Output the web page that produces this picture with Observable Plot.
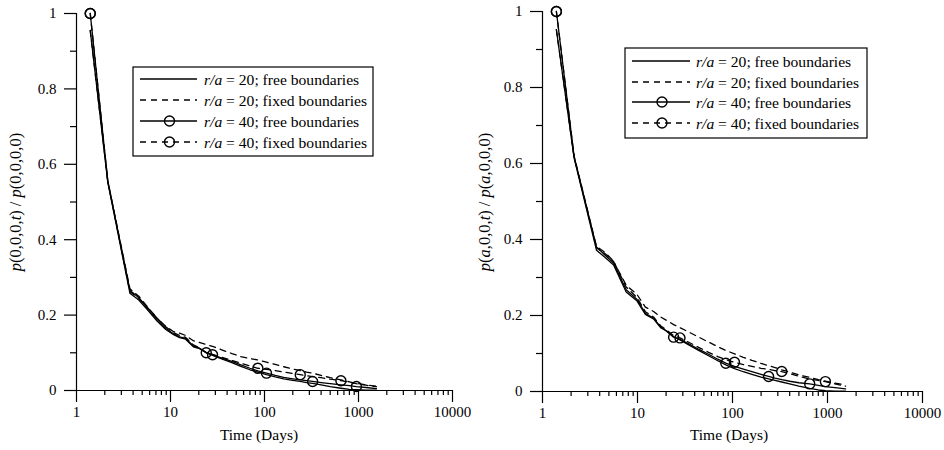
<!DOCTYPE html>
<html><head><meta charset="utf-8">
<script src="https://cdn.jsdelivr.net/npm/d3@7"></script>
<script src="https://cdn.jsdelivr.net/npm/@observablehq/plot@0.6"></script>
<style>
body{margin:0;background:#fff;}
#wrap{display:flex;width:944px;height:450px;}
#wrap svg{font-family:"Liberation Serif","Times New Roman",serif !important;display:block;}
#wrap svg text, #wrap svg tspan{font-family:"Liberation Serif","Times New Roman",serif !important;}
#wrap svg g[aria-label*="tick label"], #wrap svg g[aria-label*="tick label"] text{font-size:15px !important;}
</style></head><body><div id="wrap"></div>
<script>
// ---------- ticks ----------
const xMajorTicks = [1, 10, 100, 1000, 10000];
const xMinorTicks = [2,3,4,5,6,7,8,9,20,30,40,50,60,70,80,90,200,300,400,500,600,700,800,900,2000,3000,4000,5000,6000,7000,8000,9000];
const yMajorTicks = [0, 0.2, 0.4, 0.6, 0.8, 1];
const yMinorTicks = [0.1, 0.3, 0.5, 0.7, 0.9];
const xLabel = "Time (Days)";
const legendRest = [" = 20; free boundaries", " = 20; fixed boundaries", " = 40; free boundaries", " = 40; fixed boundaries"];

// ---------- left panel data: p(0,0,0,t)/p(0,0,0,0) ----------
const leftTimes = [1.4,2.15,3.7,4.6,5.6,7.2,8.9,10.8,12.5,14.5,17.5,20,24,28,35,45,56,70,85,105,130,160,200,240,280,325,400,500,650,800,950,1200,1550];
const leftFree20  = [0.955,0.553,0.258,0.240,0.216,0.184,0.162,0.148,0.140,0.136,0.116,0.112,0.100,0.093,0.084,0.074,0.064,0.055,0.049,0.042,0.036,0.031,0.027,0.024,0.021,0.019,0.015,0.010,0.006,0.003,0.002,0.001,0.001];
const leftFixed20 = [0.955,0.556,0.262,0.245,0.222,0.192,0.170,0.156,0.152,0.146,0.132,0.128,0.122,0.117,0.108,0.098,0.090,0.085,0.081,0.075,0.069,0.063,0.057,0.053,0.049,0.046,0.040,0.034,0.028,0.023,0.019,0.015,0.0115];
const leftFree40  = [1.0,0.556,0.266,0.246,0.220,0.188,0.165,0.150,0.142,0.138,0.118,0.113,0.101,0.095,0.086,0.077,0.068,0.059,0.052,0.046,0.040,0.035,0.031,0.028,0.026,0.024,0.021,0.018,0.015,0.013,0.0105,0.008,0.005];
const leftFixed40 = [1.0,0.557,0.270,0.250,0.224,0.192,0.169,0.153,0.146,0.141,0.121,0.114,0.100,0.096,0.088,0.080,0.072,0.065,0.059,0.056,0.053,0.049,0.045,0.042,0.039,0.037,0.034,0.030,0.026,0.022,0.018,0.014,0.010];
const leftMarksFree40  = [1.4, 28, 105, 325, 950];
const leftMarksFixed40 = [1.4, 24, 85, 240, 650];

// ---------- right panel data: p(a,0,0,t)/p(a,0,0,0) ----------
const rightTimes = [1.4,2.15,3.7,4.6,5.6,7.6,9.9,12.1,14.9,17.5,20,24,28,35,45,56,70,85,105,130,160,200,240,280,330,400,500,650,800,950,1200,1550];
const rightFree20  = [0.952,0.615,0.372,0.352,0.333,0.262,0.238,0.203,0.190,0.168,0.160,0.144,0.136,0.122,0.107,0.094,0.081,0.070,0.060,0.052,0.045,0.038,0.033,0.029,0.025,0.020,0.014,0.008,0.004,0.002,0.001,0.001];
const rightFixed20 = [0.952,0.617,0.378,0.362,0.342,0.280,0.255,0.222,0.210,0.196,0.188,0.176,0.168,0.156,0.142,0.130,0.118,0.108,0.099,0.090,0.082,0.074,0.068,0.063,0.057,0.051,0.044,0.037,0.031,0.027,0.022,0.017];
const rightFree40  = [1.0,0.618,0.380,0.358,0.338,0.268,0.242,0.206,0.192,0.170,0.160,0.143,0.137,0.125,0.110,0.098,0.085,0.0745,0.066,0.059,0.052,0.045,0.0395,0.035,0.031,0.027,0.023,0.020,0.016,0.013,0.010,0.007];
const rightFixed40 = [1.0,0.620,0.382,0.365,0.343,0.275,0.247,0.210,0.195,0.173,0.163,0.147,0.141,0.129,0.115,0.103,0.092,0.084,0.077,0.071,0.066,0.061,0.058,0.055,0.0526,0.047,0.040,0.033,0.029,0.026,0.020,0.014];
const rightMarksFree40  = [1.4, 24, 85, 240, 650];
const rightMarksFixed40 = [1.4, 28, 105, 330, 950];

const FONT = '"Liberation Serif","Times New Roman",serif';
const DASH = "6,5";
const LW = 1.3;

function rows(times, vals){ return times.map((t,i)=>({t, p: vals[i]})); }
function markRows(times, vals, at){ return at.map(t=>({t, p: vals[times.indexOf(t)]})); }

function makePanel(cfg){
  const plot = Plot.plot({
    width: 472, height: 450,
    marginLeft: cfg.ml, marginRight: cfg.mr, marginTop: cfg.mt, marginBottom: cfg.mb,
    x: {type: "log", domain: [1, 10000]},
    y: {domain: [0, 1]},
    style: {fontFamily: FONT, fontSize: "15px", color: "black", background: "white", overflow: "visible"},
    marks: [
      Plot.axisY({ticks: yMajorTicks, tickSize: 12, tickPadding: 8, tickFormat: d => String(d), label: null, fontSize: 15, strokeWidth: 1.2}),
      Plot.axisY({ticks: yMinorTicks, tickSize: 6, tickFormat: () => "", label: null, strokeWidth: 1.2}),
      Plot.axisX({ticks: xMajorTicks, tickSize: 12, tickPadding: 4, tickFormat: d => String(d), label: null, fontSize: 15, strokeWidth: 1.2}),
      Plot.axisX({ticks: xMinorTicks, tickSize: 5, tickFormat: () => "", label: null, strokeWidth: 1.2}),
      Plot.ruleX([1], {y1: 0, y2: 1, stroke: "black", strokeWidth: 1.2}),
      Plot.ruleY([0], {x1: 1, x2: 10000, stroke: "black", strokeWidth: 1.2}),
      Plot.line(rows(cfg.times, cfg.free20), {x: "t", y: "p", stroke: "black", strokeWidth: LW}),
      Plot.line(rows(cfg.times, cfg.fixed20), {x: "t", y: "p", stroke: "black", strokeWidth: LW, strokeDasharray: DASH}),
      Plot.line(rows(cfg.times, cfg.free40), {x: "t", y: "p", stroke: "black", strokeWidth: LW}),
      Plot.line(rows(cfg.times, cfg.fixed40), {x: "t", y: "p", stroke: "black", strokeWidth: LW, strokeDasharray: DASH}),
      Plot.dot(markRows(cfg.times, cfg.free40, cfg.marksFree40), {x: "t", y: "p", r: 5, stroke: "black", strokeWidth: 1.4, fill: "none"}),
      Plot.dot(markRows(cfg.times, cfg.fixed40, cfg.marksFixed40), {x: "t", y: "p", r: 5, stroke: "black", strokeWidth: 1.4, fill: "none"})
    ]
  });
  const svg = d3.select(plot);
  // y label with italic parts
  const yl = svg.append("text")
    .attr("transform", `translate(${cfg.ylx},${cfg.yly}) rotate(-90)`)
    .style("text-anchor", "middle").style("font-size", "16.5px").attr("fill", "black");
  cfg.ylabel.forEach(([s, it]) => yl.append("tspan").text(s).style("font-style", it ? "italic" : "normal"));
  // x label
  svg.append("text").attr("x", cfg.xlx).attr("y", cfg.xly)
    .style("text-anchor", "middle").style("font-size", "15.5px").attr("fill", "black").text(xLabel);
  // legend
  const L = cfg.leg;
  const g = svg.append("g");
  g.append("rect").attr("x", L.x).attr("y", L.y).attr("width", L.w).attr("height", L.h)
    .attr("fill", "white").attr("stroke", "black").attr("stroke-width", 1.2);
  const styles = [{dash: null, dot: false}, {dash: DASH, dot: false}, {dash: null, dot: true}, {dash: DASH, dot: true}];
  styles.forEach((st, i) => {
    const cy = L.rows[i];
    g.append("line").attr("x1", L.lx1).attr("x2", L.lx2).attr("y1", cy).attr("y2", cy)
      .attr("stroke", "black").attr("stroke-width", LW).attr("stroke-dasharray", st.dash);
    if (st.dot) g.append("circle").attr("cx", (L.lx1 + L.lx2) / 2 + 1).attr("cy", cy).attr("r", 5)
      .attr("fill", "none").attr("stroke", "black").attr("stroke-width", 1.4);
    const t = g.append("text").attr("x", L.tx).attr("y", cy + 5.5)
      .style("text-anchor", "start").style("font-size", "15.6px").attr("fill", "black");
    t.append("tspan").style("font-style", "italic").text("r/a");
    t.append("tspan").text(legendRest[i]);
  });
  return plot;
}

const wrap = document.getElementById("wrap");
wrap.appendChild(makePanel({
  ml: 76, mr: 20, mt: 13, mb: 60,
  times: leftTimes, free20: leftFree20, fixed20: leftFixed20, free40: leftFree40, fixed40: leftFixed40,
  marksFree40: leftMarksFree40, marksFixed40: leftMarksFixed40,
  ylabel: [["p", true], ["(0,0,0,", false], ["t", true], [") / ", false], ["p", true], ["(0,0,0,0)", false]],
  ylx: 21, yly: 202, xlx: 259, xly: 440,
  leg: {x: 133, y: 67, w: 240, h: 89, rows: [79, 100, 121, 142], lx1: 140, lx2: 197, tx: 204}
}));
wrap.appendChild(makePanel({
  ml: 70, mr: 22, mt: 11, mb: 59,
  times: rightTimes, free20: rightFree20, fixed20: rightFixed20, free40: rightFree40, fixed40: rightFixed40,
  marksFree40: rightMarksFree40, marksFixed40: rightMarksFixed40,
  ylabel: [["p", true], ["(", false], ["a", true], [",0,0,", false], ["t", true], [") / ", false], ["p", true], ["(", false], ["a", true], [",0,0,0)", false]],
  ylx: 18, yly: 202, xlx: 257, xly: 440,
  leg: {x: 153, y: 48, w: 242, h: 90, rows: [61, 82, 102, 123], lx1: 160, lx2: 218, tx: 224}
}));
</script></body></html>
